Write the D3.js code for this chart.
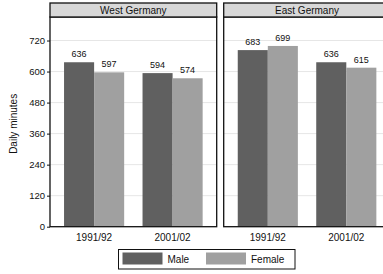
<!DOCTYPE html>
<html>
<head>
<meta charset="utf-8">
<script src="https://cdn.jsdelivr.net/npm/d3@7"></script>
<style>
  body { margin: 0; background: #fff; }
  text { font-family: "Liberation Sans", Arial, sans-serif; fill: #111; }
</style>
</head>
<body>
<script>
// data
var regions = ["West Germany", "East Germany"];
var years = ["1991/92", "2001/02"];
var sexes = ["Male", "Female"];
var westValues = [[636, 597], [594, 574]];
var eastValues = [[683, 699], [636, 615]];
var yTicks = [0, 120, 240, 360, 480, 600, 720];

var W = 383, H = 274;
var svg = d3.select("body").append("svg")
    .attr("width", W)
    .attr("height", H);

var panelW = 166.7, headTop = 3, headH = 14, plotTop = 17, plotBottom = 226.7;
var panelX = [50, 223.7];

var y = d3.scaleLinear().domain([0, 811]).range([plotBottom, plotTop]);
var x0 = d3.scaleBand().domain(years).range([0, panelW])
    .paddingInner(0.234).paddingOuter(0.179);
var x1 = d3.scaleBand().domain(sexes).range([0, x0.bandwidth()]);
var color = d3.scaleOrdinal().domain(sexes).range(["#606060", "#a0a0a0"]);

var allValues = [westValues, eastValues];

regions.forEach(function(name, p) {
  var g = svg.append("g").attr("transform", "translate(" + panelX[p] + ",0)");

  // gridlines
  g.selectAll(".grid").data(yTicks.slice(1)).enter().append("line")
    .attr("x1", 0).attr("x2", panelW)
    .attr("y1", function(d) { return y(d); })
    .attr("y2", function(d) { return y(d); })
    .attr("stroke", "#e6e6e6").attr("stroke-width", 1);

  // bars
  years.forEach(function(yr, i) {
    var grp = g.append("g").attr("transform", "translate(" + x0(yr) + ",0)");
    sexes.forEach(function(s, j) {
      var v = allValues[p][i][j];
      grp.append("rect")
        .attr("x", x1(s))
        .attr("y", y(v))
        .attr("width", x1.bandwidth())
        .attr("height", y(0) - y(v))
        .attr("fill", color(s));
      grp.append("text")
        .attr("x", x1(s) + x1.bandwidth() / 2)
        .attr("y", y(v) - 5)
        .attr("text-anchor", "middle")
        .style("font-size", "9px")
        .text(v);
    });
    g.append("text")
      .attr("x", x0(yr) + x0.bandwidth() / 2)
      .attr("y", plotBottom + 14)
      .attr("text-anchor", "middle")
      .style("font-size", "10px")
      .text(yr);
  });

  // panel frame
  g.append("rect")
    .attr("x", 0).attr("y", plotTop)
    .attr("width", panelW).attr("height", plotBottom - plotTop)
    .attr("fill", "none").attr("stroke", "#111").attr("stroke-width", 1.3);

  // header strip
  g.append("rect")
    .attr("x", 0).attr("y", headTop)
    .attr("width", panelW).attr("height", headH)
    .attr("fill", "#d8d8d8").attr("stroke", "#111").attr("stroke-width", 1.3);
  g.append("text")
    .attr("x", panelW / 2).attr("y", headTop + 10.5)
    .attr("text-anchor", "middle")
    .style("font-size", "10px")
    .text(name);
});

// y axis on the left panel
var yAxis = svg.append("g")
  .attr("transform", "translate(" + panelX[0] + ",0)")
  .call(d3.axisLeft(y).tickValues(yTicks).tickSize(3).tickPadding(2));
yAxis.select(".domain").remove();
yAxis.selectAll("line").attr("stroke", "#111");
yAxis.selectAll("text").style("font-size", "9.5px").style("font-family", "Liberation Sans, Arial, sans-serif").attr("fill", "#111");

svg.append("text")
  .attr("transform", "translate(17," + ((plotTop + plotBottom) / 2 + 2) + ") rotate(-90)")
  .attr("text-anchor", "middle")
  .style("font-size", "10px")
  .text("Daily minutes");

// legend
var leg = svg.append("g");
leg.append("rect")
  .attr("x", 118.5).attr("y", 249.5).attr("width", 176.5).attr("height", 19.5)
  .attr("fill", "#fff").attr("stroke", "#111").attr("stroke-width", 1);
var legX = [122.5, 206];
sexes.forEach(function(s, j) {
  leg.append("rect")
    .attr("x", legX[j]).attr("y", 252.5).attr("width", 40).attr("height", 12)
    .attr("fill", color(s));
  leg.append("text")
    .attr("x", legX[j] + 45).attr("y", 262.5)
    .style("font-size", "10px")
    .text(s);
});
</script>
</body>
</html>
